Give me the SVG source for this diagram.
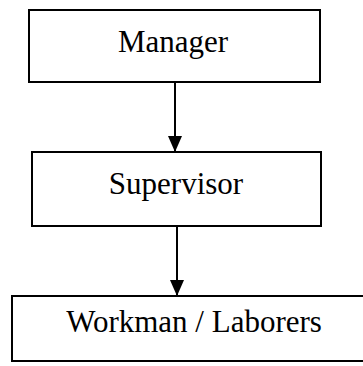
<svg xmlns="http://www.w3.org/2000/svg" width="363" height="366" viewBox="0 0 363 366">
<defs>
<style>
.box{fill:#fff;stroke:#000;stroke-width:2}
.lbl{font-family:"Liberation Serif","Times New Roman",serif;font-size:31px;fill:#000;text-anchor:middle}
.conn{stroke:#000;stroke-width:2;fill:none}
</style>
<marker id="arr" viewBox="0 0 16 14" refX="16" refY="7" markerWidth="16" markerHeight="14" markerUnits="userSpaceOnUse" orient="auto">
<path d="M0,0 L16,7 L0,14 Z" fill="#000"/>
</marker>
</defs>
<rect width="363" height="366" fill="#fff"/>
<g id="connectors">
<line class="conn" x1="175" y1="82" x2="175" y2="152" marker-end="url(#arr)"/>
<line class="conn" x1="177" y1="226" x2="177" y2="296" marker-end="url(#arr)"/>
</g>
<g id="manager">
<rect class="box" x="29" y="10" width="291" height="72"/>
<text class="lbl" x="173" y="52">Manager</text>
</g>
<g id="supervisor">
<rect class="box" x="32" y="152" width="289" height="74"/>
<text class="lbl" x="176" y="194">Supervisor</text>
</g>
<g id="workman">
<rect class="box" x="12" y="296" width="370" height="65"/>
<text class="lbl" x="194" y="332">Workman / Laborers</text>
</g>
</svg>
